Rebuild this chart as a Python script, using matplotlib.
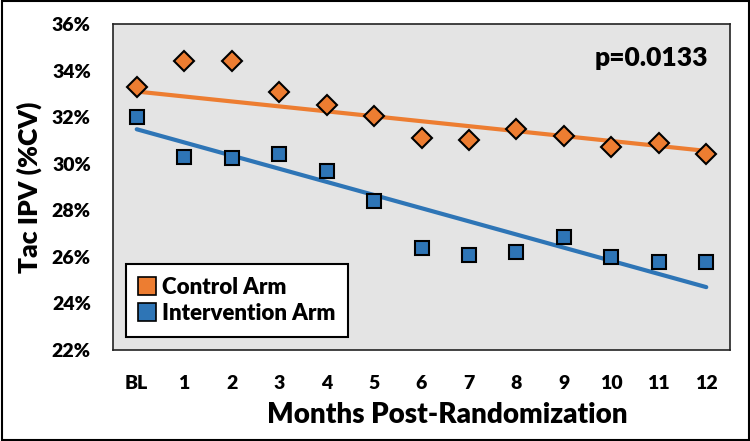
import matplotlib
matplotlib.use("Agg")
import matplotlib.pyplot as plt
from matplotlib.lines import Line2D
from matplotlib.ticker import FuncFormatter

months = ["BL", "1", "2", "3", "4", "5", "6", "7", "8", "9", "10", "11", "12"]
control = [33.3, 34.4, 34.4, 33.08, 32.52, 32.05, 31.1, 31.0, 31.5, 31.2, 30.7, 30.9, 30.4]
intervention = [32.0, 30.3, 30.25, 30.4, 29.7, 28.4, 26.4, 26.1, 26.2, 26.85, 26.0, 25.8, 25.8]
control_trend = [33.1, 30.55]       # fitted line at BL and month 12
intervention_trend = [31.48, 24.7]  # fitted line at BL and month 12
yticks = [22, 24, 26, 28, 30, 32, 34, 36]
p_text = "p=0.0133"

ORANGE = "#ED7D31"
BLUE = "#2E75B6"
FONT = "Lato"
W = "heavy"

fig = plt.figure(figsize=(7.5, 4.41), dpi=100)
ax = fig.add_axes([113/750, 1-350/441, (730-113)/750, (350-24)/441])
ax.set_facecolor("#E4E4E4")

x = list(range(len(months)))
ax.plot([x[0], x[-1]], control_trend, color=ORANGE, lw=3, solid_capstyle="round", zorder=2)
ax.plot([x[0], x[-1]], intervention_trend, color=BLUE, lw=3, solid_capstyle="round", zorder=2)
ax.plot(x, control, ls="none", marker="D", ms=9.8, mfc=ORANGE, mec="black", mew=1.5, zorder=3)
ax.plot(x, intervention, ls="none", marker="s", ms=9.8, mfc=BLUE, mec="black", mew=1.5, zorder=3)

ax.set_xlim(-0.5, len(months) - 0.5)
ax.set_ylim(22, 36)
ax.set_yticks(yticks)
ax.yaxis.set_major_formatter(FuncFormatter(lambda v, p: f"{v:.0f}%"))
ax.set_xticks(x)
ax.set_xticklabels(months)
ax.tick_params(axis="both", length=0, labelsize=14)
ax.tick_params(axis="y", pad=16)
ax.tick_params(axis="x", pad=18)
for lab in ax.get_xticklabels() + ax.get_yticklabels():
    lab.set_fontweight(W)
    lab.set_family(FONT)

for s in ax.spines.values():
    s.set_linewidth(1.2)
    s.set_color("#222222")

ax.set_ylabel("Tac IPV (%CV)", fontsize=19, fontweight=W, family=FONT, va="center")
ax.set_xlabel("Months Post-Randomization", fontsize=20, fontweight=W, family=FONT, va="center")
ax.yaxis.set_label_coords((29 - 113) / 617, 0.5)
ax.xaxis.set_label_coords((447 - 113) / 617, (350 - 415) / 326)

ax.text(0.965, 0.895, p_text, transform=ax.transAxes, ha="right", va="center",
        fontsize=19, fontweight=W, family=FONT)

handles = [
    Line2D([], [], ls="none", marker="s", ms=13, mfc=ORANGE, mec="black", mew=1.2, label="Control Arm"),
    Line2D([], [], ls="none", marker="s", ms=13, mfc=BLUE, mec="black", mew=1.2, label="Intervention Arm"),
]
leg = ax.legend(handles=handles, loc="lower left", bbox_to_anchor=(13 / 617, 13 / 326),
                borderaxespad=0,
                frameon=True, fancybox=False, edgecolor="black", framealpha=1,
                handlelength=0.7, handletextpad=0.3, borderpad=0.6, labelspacing=0.2,
                prop={"family": FONT, "weight": W, "size": 16})
leg.get_frame().set_linewidth(1.5)

fig.patches.append(plt.Rectangle((0.002, 0.003), 0.996, 0.994, transform=fig.transFigure,
                                 fill=False, edgecolor="black", lw=1.5))

fig.savefig("out.png", dpi=100)
